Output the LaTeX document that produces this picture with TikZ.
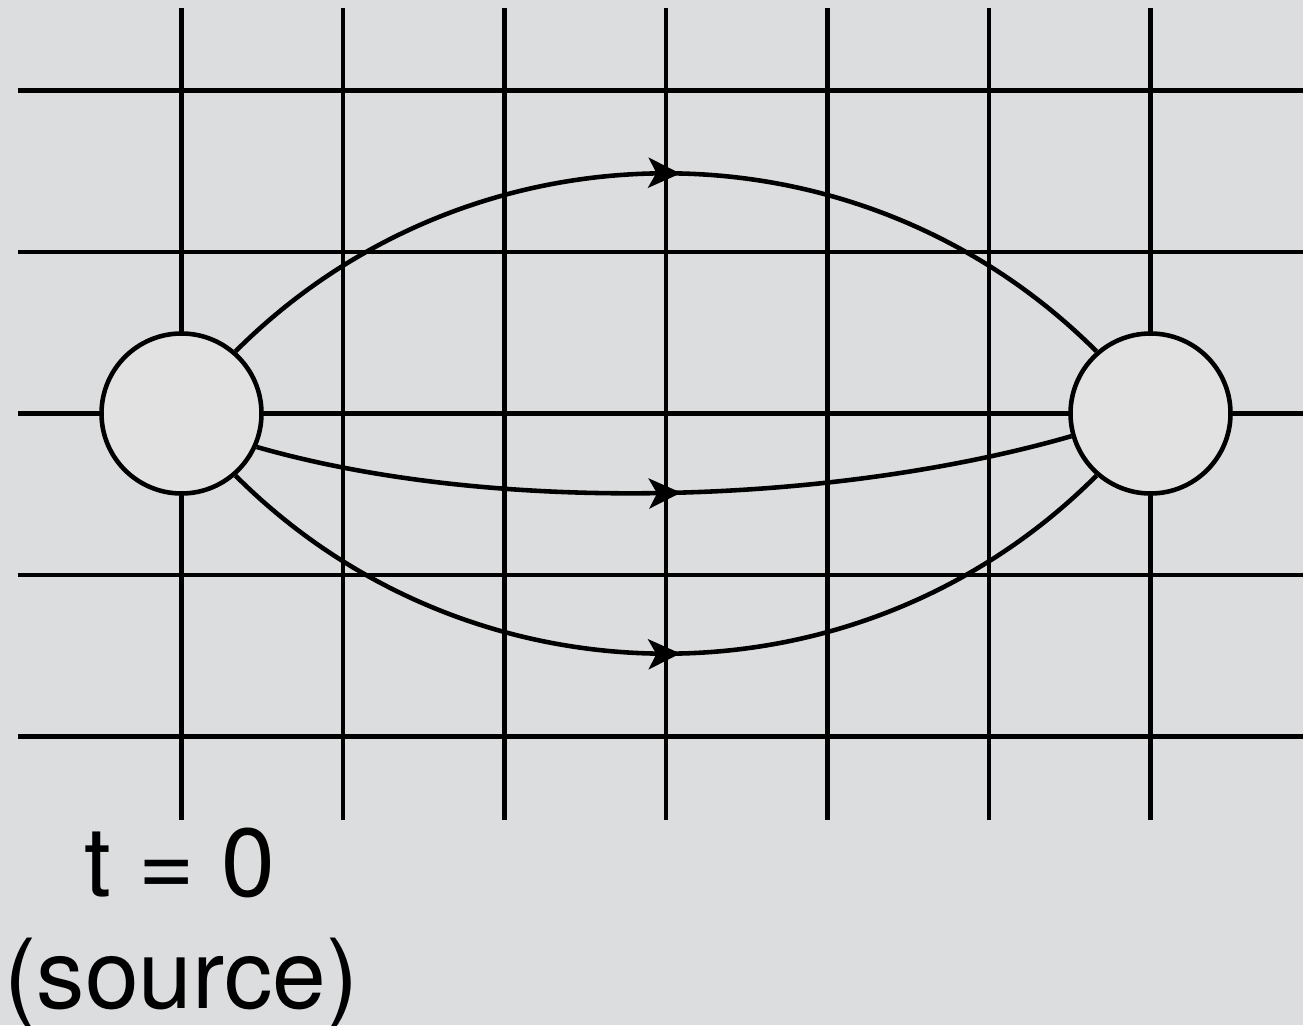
\documentclass[tikz,border=0pt]{standalone}
\usepackage{fontspec}
\setmainfont{TeX Gyre Heros}
\usetikzlibrary{arrows.meta,decorations.markings}
\definecolor{bggray}{RGB}{220,221,223}
\definecolor{nodefill}{RGB}{226,226,226}
\begin{document}
\begin{tikzpicture}[
  gridline/.style={line width=1.3pt},
  state/.style={circle, draw, line width=1.3pt, fill=nodefill,
                minimum size=1.6cm, inner sep=0pt},
  flow/.style={line width=1.3pt, postaction={decorate},
               decoration={markings, mark=at position #1 with
                 {\arrow{Stealth[length=3.2mm, width=3mm, inset=0.8mm]}}}},
  flow/.default=0.515,
  lbl/.style={font=\fontsize{27.5}{32}\selectfont, inner sep=0pt, anchor=base}
]
  \useasboundingbox[fill=bggray] (-1.815,4.135) rectangle (11.215,-6.115);

  % grid
  \draw[gridline] (0,4.055)     -- (0,-4.065);
  \draw[gridline] (1.615,4.055) -- (1.615,-4.065);
  \draw[gridline] (3.23,4.055)  -- (3.23,-4.065);
  \draw[gridline] (4.845,4.055) -- (4.845,-4.065);
  \draw[gridline] (6.46,4.055)  -- (6.46,-4.065);
  \draw[gridline] (8.075,4.055) -- (8.075,-4.065);
  \draw[gridline] (9.69,4.055)  -- (9.69,-4.065);
  \draw[gridline] (-1.635,3.23)  -- (11.215,3.23);
  \draw[gridline] (-1.635,1.615) -- (11.215,1.615);
  \draw[gridline] (-1.635,0)     -- (11.215,0);
  \draw[gridline] (-1.635,-1.615) -- (11.215,-1.615);
  \draw[gridline] (-1.635,-3.23)  -- (11.215,-3.23);

  \node[state] (src) at (0,0) {};
  \node[state] (dst) at (9.69,0) {};

  \draw[flow] (src.49) to[out=45, in=135] (dst.131);
  \draw[flow=0.52] (src.-24) to[out=-16, in=196, looseness=0.78] (dst.196);
  \draw[flow] (src.-49) to[out=-45, in=-135] (dst.-131);

  \node[lbl] (tlabel) at (-0.015,-4.825) {t = 0};
  \node[lbl] (srclabel) at (0,-5.945) {(source)};
\end{tikzpicture}
\end{document}
